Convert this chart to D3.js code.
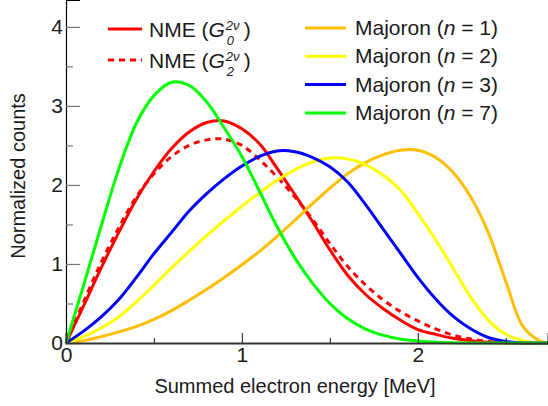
<!DOCTYPE html>
<html>
<head>
<meta charset="utf-8">
<script src="https://cdn.jsdelivr.net/npm/d3@7"></script>
<style>
  html, body { margin: 0; padding: 0; background: #fff; }
  svg { display: block; font-family: "Liberation Sans", Arial, sans-serif; }
</style>
</head>
<body>
<svg id="chart" width="548" height="406"></svg>
<script>
// summed electron energy grid [MeV]
const energies = [0, 0.1, 0.2, 0.3, 0.4, 0.5, 0.6, 0.7, 0.8, 0.9, 1.0, 1.1, 1.2, 1.3, 1.4, 1.5,
  1.6, 1.7, 1.8, 1.9, 2.0, 2.1, 2.2, 2.3, 2.4, 2.5, 2.6, 2.7, 2.74];

// normalized counts
const nmeG0 = [0, 0.47, 0.95, 1.40, 1.82, 2.17, 2.46, 2.67, 2.79, 2.81, 2.71, 2.52, 2.21, 1.88, 1.54, 1.18,
  0.86, 0.62, 0.44, 0.29, 0.17, 0.11, 0.06, 0.03, 0.01, 0, 0, 0, 0];
const nmeG2 = [0, 0.52, 1.02, 1.46, 1.85, 2.14, 2.36, 2.50, 2.57, 2.58, 2.50, 2.32, 2.10, 1.85, 1.57, 1.26,
  0.97, 0.74, 0.55, 0.40, 0.28, 0.18, 0.10, 0.05, 0.02, 0.005, 0, 0, 0];
const majoron1 = [0, 0.03, 0.08, 0.14, 0.21, 0.30, 0.41, 0.54, 0.68, 0.83, 0.99, 1.16, 1.35, 1.55, 1.76, 1.96,
  2.14, 2.28, 2.38, 2.44, 2.44, 2.35, 2.16, 1.85, 1.40, 0.78, 0.20, 0.02, 0];
const majoron2 = [0, 0.08, 0.19, 0.33, 0.52, 0.73, 0.95, 1.16, 1.36, 1.55, 1.73, 1.90, 2.06, 2.19, 2.29, 2.34,
  2.33, 2.26, 2.13, 1.94, 1.64, 1.31, 0.95, 0.58, 0.29, 0.11, 0.03, 0, 0];
const majoron3 = [0, 0.15, 0.33, 0.55, 0.83, 1.13, 1.40, 1.67, 1.89, 2.08, 2.24, 2.36, 2.43, 2.42, 2.35, 2.23,
  2.04, 1.76, 1.45, 1.14, 0.83, 0.56, 0.34, 0.18, 0.07, 0.02, 0, 0, 0];
const majoron7 = [0, 0.73, 1.48, 2.20, 2.78, 3.13, 3.30, 3.26, 3.05, 2.72, 2.36, 1.92, 1.47, 1.08, 0.76, 0.50,
  0.31, 0.18, 0.10, 0.05, 0.025, 0.01, 0.004, 0.001, 0, 0, 0, 0, 0];

const xMajor = [0, 1, 2];
const xMinor = [0.5, 1.5, 2.5];
const yMajor = [0, 1, 2, 3, 4];
const yMinor = [0.5, 1.5, 2.5, 3.5];

// drawing order: last one ends up on top
const series = [
  { values: nmeG0, color: "#ff0000", dash: null },
  { values: nmeG2, color: "#ff0000", dash: "6,5" },
  { values: majoron1, color: "#ffbf00", dash: null },
  { values: majoron2, color: "#ffff00", dash: null },
  { values: majoron3, color: "#0000ff", dash: null },
  { values: majoron7, color: "#00ff00", dash: null },
];

const svg = d3.select("#chart");
const x = d3.scaleLinear().domain([0, 2.74]).range([66, 548]);
const y = d3.scaleLinear().domain([0, 4.34]).range([343, 0]);
const TEXT = "#1a1a1a";

// ---------- curves ----------
const line = d3.line().x((d) => x(d[0])).y((d) => Math.min(y(0), y(d[1]))).curve(d3.curveCatmullRom.alpha(0.5));
series.forEach((s) => {
  svg.append("path")
    .datum(energies.map((e, i) => [e, s.values[i]]))
    .attr("fill", "none")
    .attr("stroke", s.color)
    .attr("stroke-width", 3)
    .attr("stroke-dasharray", s.dash)
    .attr("d", line);
});

// ---------- axes ----------
function styleAxis(g) {
  g.selectAll(".tick line").attr("stroke", "#777").attr("stroke-width", 1.2);
  g.selectAll(".tick text").attr("fill", TEXT).attr("font-size", 21).attr("font-family", null);
}

const yAxis = svg.append("g").attr("transform", `translate(${x(0)},0)`)
  .call(d3.axisLeft(y).tickValues(yMajor).tickSize(-14).tickPadding(3).tickFormat(d3.format("d")))
  .call(styleAxis);
yAxis.select(".domain").attr("stroke", "#000").attr("stroke-width", 1.2);
svg.append("g").attr("transform", `translate(${x(0)},0)`)
  .call(d3.axisLeft(y).tickValues(yMinor).tickSize(-7).tickFormat(""))
  .call(styleAxis)
  .select(".domain").remove();

const xAxis = svg.append("g").attr("transform", `translate(0,${y(0)})`)
  .call(d3.axisBottom(x).tickValues(xMajor).tickSize(-10).tickPadding(4).tickFormat(d3.format("d")))
  .call(styleAxis);
xAxis.select(".domain").attr("stroke", "#333").attr("stroke-width", 2);
xAxis.selectAll(".tick line").attr("stroke", "#333");
svg.append("g").attr("transform", `translate(0,${y(0)})`)
  .call(d3.axisBottom(x).tickValues(xMinor).tickSize(-5).tickFormat(""))
  .call((g) => g.selectAll(".tick line").attr("stroke", "#333").attr("stroke-width", 1.2))
  .select(".domain").remove();

// axis titles
svg.append("text")
  .attr("x", 295).attr("y", 393)
  .attr("text-anchor", "middle").attr("font-size", 20).attr("fill", TEXT)
  .text("Summed electron energy [MeV]");
svg.append("text")
  .attr("transform", "translate(25,176) rotate(-90)")
  .attr("text-anchor", "middle").attr("font-size", 20).attr("fill", TEXT)
  .text("Normalized counts");

// ---------- legend ----------
const nmeLegend = [
  { sub: "0", dash: null, base: 37 },
  { sub: "2", dash: "6,5", base: 68 },
];
nmeLegend.forEach((d) => {
  svg.append("line")
    .attr("x1", 108).attr("x2", 142).attr("y1", d.base - 8).attr("y2", d.base - 8)
    .attr("stroke", "#ff0000").attr("stroke-width", 3).attr("stroke-dasharray", d.dash);
  const t = svg.append("text").attr("x", 149).attr("y", d.base)
    .attr("font-size", 21).attr("fill", TEXT);
  t.append("tspan").text("NME (");
  t.append("tspan").attr("font-style", "italic").text("G");
  const w = t.node().getComputedTextLength();
  const gx = 149 + w + 1;
  svg.append("text").attr("x", gx).attr("y", d.base - 7)
    .attr("font-size", 13).attr("font-style", "italic").attr("fill", TEXT).text("2\u03BD");
  svg.append("text").attr("x", gx + 1).attr("y", d.base + 8)
    .attr("font-size", 13).attr("font-style", "italic").attr("fill", TEXT).text(d.sub);
  svg.append("text").attr("x", gx + 18).attr("y", d.base)
    .attr("font-size", 21).attr("fill", TEXT).text(")");
});

const majoronLegend = [
  { n: 1, color: "#ffbf00" },
  { n: 2, color: "#ffff00" },
  { n: 3, color: "#0000ff" },
  { n: 7, color: "#00ff00" },
];
majoronLegend.forEach((d, i) => {
  const base = 35 + i * 28.3;
  svg.append("line")
    .attr("x1", 305).attr("x2", 346).attr("y1", base - 7).attr("y2", base - 7)
    .attr("stroke", d.color).attr("stroke-width", 3);
  const t = svg.append("text").attr("x", 355).attr("y", base)
    .attr("font-size", 21).attr("fill", TEXT);
  t.append("tspan").text("Majoron (");
  t.append("tspan").attr("font-style", "italic").text("n");
  t.append("tspan").text(` = ${d.n})`);
});
</script>
</body>
</html>
